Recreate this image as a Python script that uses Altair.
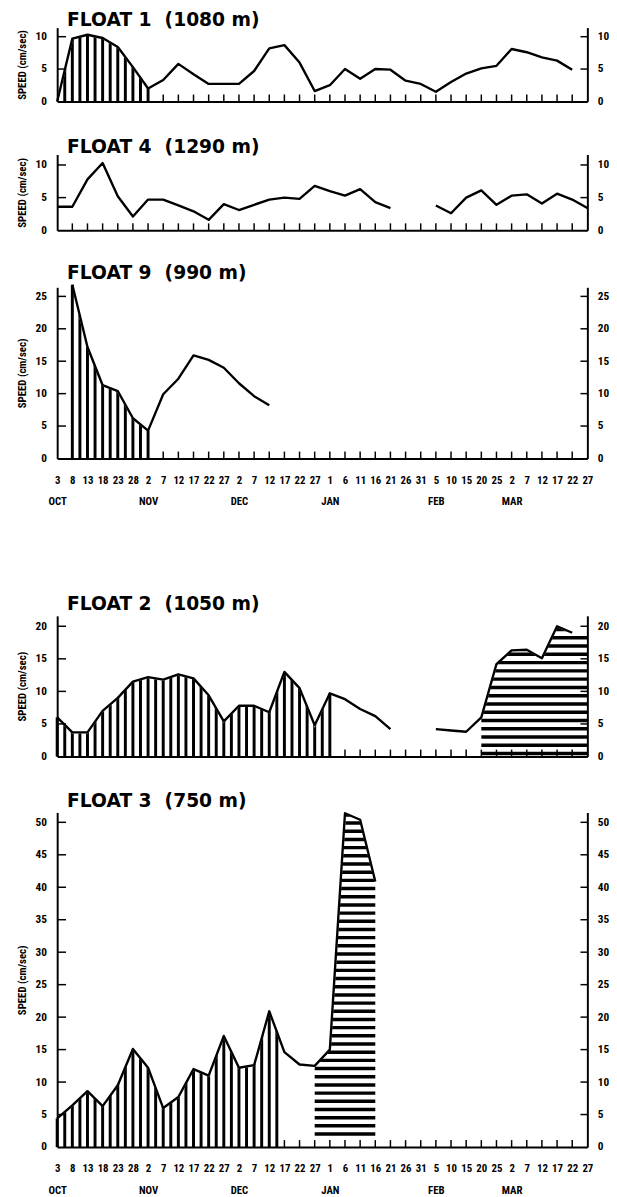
import altair as alt
import pandas as pd

# ---------------- data ----------------
DAY_LABELS = ["3", "8", "13", "18", "23", "28", "2", "7", "12", "17", "22", "27",
              "2", "7", "12", "17", "22", "27", "1", "6", "11", "16", "21", "26",
              "31", "5", "10", "15", "20", "25", "2", "7", "12", "17", "22", "27"]
MONTH_AT = {0: "OCT", 6: "NOV", 12: "DEC", 18: "JAN", 25: "FEB", 30: "MAR"}

F1_TITLE = "FLOAT 1\u00a0\u00a0(1080 m)"
F1_SPEED = [0.0, 9.7, 10.3, 9.8, 8.4, 5.3, 2.0, 3.3, 5.8, 4.2, 2.7, 2.7, 2.7, 4.7,
            8.2, 8.7, 6.0, 1.6, 2.5, 5.0, 3.5, 5.0, 4.9, 3.2, 2.7, 1.5, 3.0, 4.3,
            5.1, 5.5, 8.1, 7.6, 6.8, 6.3, 4.9, None]

F4_TITLE = "FLOAT 4\u00a0\u00a0(1290 m)"
F4_SPEED = [3.6, 3.6, 7.8, 10.3, 5.2, 2.1, 4.7, 4.7, 3.8, 2.9, 1.6, 4.0, 3.1, 3.9,
            4.7, 5.0, 4.8, 6.8, 6.0, 5.3, 6.3, 4.3, 3.4, None, None, 3.8, 2.6, 5.0,
            6.1, 3.9, 5.3, 5.5, 4.1, 5.6, 4.7, 3.4]

F9_TITLE = "FLOAT 9\u00a0\u00a0(990 m)"
F9_SPEED = [None, 26.8, 17.2, 11.3, 10.4, 6.2, 4.3, 9.9, 12.3, 15.9, 15.2, 14.0,
            11.6, 9.6, 8.2] + [None] * 21

F2_TITLE = "FLOAT 2\u00a0\u00a0(1050 m)"
F2_SPEED = [6.0, 3.7, 3.7, 7.0, 9.0, 11.5, 12.2, 11.8, 12.6, 12.0, 9.4, 5.4, 7.8,
            7.8, 6.8, 13.0, 10.5, 4.8, 9.7, 8.8, 7.3, 6.2, 4.2, None, None, 4.2,
            4.0, 3.8, 6.0, 14.2, 16.3, 16.4, 15.1, 20.0, 19.0, None]
F2_HATCH_EDGE = [(35, 18.8)]  # top of the horizontal hatching at the right axis

F3_TITLE = "FLOAT 3\u00a0\u00a0(750 m)"
F3_SPEED = [4.4, 6.4, 8.6, 6.3, 9.5, 15.1, 12.2, 6.0, 7.7, 12.0, 11.0, 17.1, 12.2,
            12.6, 20.9, 14.6, 12.7, 12.5, 15.0, 51.4, 50.4, 40.9] + [None] * 14

TICK_IDX = list(range(1, 35))

LBL_FONT = ("Noto Sans ExtraCondensed, Roboto Condensed, Liberation Sans Narrow, "
            "Noto Sans Condensed, DejaVu Sans Condensed, Lato, sans-serif")
TTL_FONT = "DejaVu Sans, sans-serif"
W = 539


def segments(vals):
    rows, seg, prev = [], 0, False
    for i, v in enumerate(vals):
        if v is None:
            if prev:
                seg += 1
            prev = False
            continue
        rows.append({"i": i, "v": v, "seg": seg})
        prev = True
    return pd.DataFrame(rows)


def label_expr():
    items = []
    for i, d in enumerate(DAY_LABELS):
        if i in MONTH_AT:
            items.append("['%s','%s']" % (d, MONTH_AT[i]))
        else:
            items.append("'%s'" % d)
    return "[" + ",".join(items) + "][round(datum.value)]"


def panel(title, vals, ymax, h, yticks, vhatch=None, vedges=(), hhatch=None,
          hh_levels=(0.45, 1.27), extra=(), labels=False, title_offset=-21):
    df = segments(vals)
    xscale = alt.Scale(domain=[0, 35], nice=False, zero=False)
    yscale = alt.Scale(domain=[0, ymax], nice=False, zero=False)
    xaxis = alt.Axis(values=list(range(36)), ticks=False, tickSize=0, grid=False,
                     domainColor="black", domainWidth=2, labels=labels,
                     labelExpr=label_expr(), labelFont=LBL_FONT, labelFontSize=11,
                     labelFontWeight="bold", labelColor="black", labelPadding=16,
                     labelLineHeight=22, labelFlush=False, labelOverlap=False,
                     labelAlign="center", title=None, zindex=1)
    yaxis = alt.Axis(orient="left", values=yticks, ticks=False, tickSize=0, grid=False,
                     domainColor="black", domainWidth=2, labelFont=LBL_FONT,
                     labelFontSize=11.5, labelFontWeight="bold", labelColor="black",
                     labelPadding=11, labelFlush=False, labelOverlap=False,
                     minExtent=24, maxExtent=24,
                     title="SPEED (cm/sec)", titleFont=LBL_FONT, titleFontSize=11,
                     titleFontWeight="bold", titleColor="black", titlePadding=6,
                     zindex=1)

    def X(f="i"):
        return alt.X(f"{f}:Q", scale=xscale, axis=xaxis)

    def Y(f="v"):
        return alt.Y(f"{f}:Q", scale=yscale, axis=yaxis)

    layers = []
    # inward bottom ticks
    layers.append(alt.Chart(pd.DataFrame({"i": TICK_IDX})).mark_rule(
        color="black", strokeWidth=1.5).encode(x=X(), y=alt.value(h), y2=alt.value(h - 7)))

    # vertical hatching
    if vhatch is not None:
        a, b = vhatch
        layers.append(
            alt.Chart(alt.sequence(a + 0.5, b - 0.49, 0.5, as_="i"))
            .transform_calculate(lo="0", hi=str(ymax))
            .mark_rule(color="black", strokeWidth=3)
            .encode(x=X(), y=Y("lo"), y2="hi:Q"))
    # horizontal hatching
    if hhatch is not None:
        a, b = hhatch
        start, step = hh_levels
        layers.append(
            alt.Chart(alt.sequence(start, ymax, step, as_="v"))
            .transform_calculate(a=str(a), b=str(b))
            .mark_rule(color="black", strokeWidth=3.5)
            .encode(y=Y(), x=X("a"), x2="b:Q"))
    # white masks above the curve inside the hatched ranges
    for rng in [r for r in (vhatch, hhatch) if r is not None]:
        a, b = rng
        mdf = df[(df.i >= a) & (df.i <= b)][["i", "v"]]
        if rng is hhatch and extra:
            mdf = pd.concat([mdf, pd.DataFrame(extra, columns=["i", "v"])])
        layers.append(
            alt.Chart(mdf).transform_calculate(top=str(ymax))
            .mark_area(color="white", opacity=1, stroke="white", strokeWidth=2,
                       interpolate="linear")
            .encode(x=X(), y=Y(), y2="top:Q"))
    # edge lines of hatched regions
    if vedges:
        edf = df[df.i.isin(list(vedges))]
        layers.append(
            alt.Chart(edf).transform_calculate(lo="0")
            .mark_rule(color="black", strokeWidth=3)
            .encode(x=X(), y=Y("lo"), y2="v:Q"))
    # speed line
    layers.append(alt.Chart(df).mark_line(color="black", strokeWidth=2.4,
                                          strokeJoin="round")
                  .encode(x=X(), y=Y(), detail="seg:N"))
    # inward left ticks
    tdf = pd.DataFrame({"t": [t for t in yticks if t > 0]})
    layers.append(alt.Chart(tdf).mark_rule(color="black", strokeWidth=1.5)
                  .encode(y=Y("t"), x=alt.value(0), x2=alt.value(9)))

    raxis = alt.Axis(orient="right", values=yticks, ticks=False, tickSize=0, grid=False,
                     domainColor="black", domainWidth=2, labelFont=LBL_FONT,
                     labelFontSize=11.5, labelFontWeight="bold", labelColor="black",
                     labelPadding=10, labelFlush=False, labelOverlap=False,
                     title=None, zindex=1)
    right = alt.Chart(tdf).mark_rule(color="black", strokeWidth=1.5).encode(
        y=alt.Y("t:Q", scale=alt.Scale(domain=[0, ymax], nice=False, zero=False),
                axis=raxis),
        x=alt.value(W - 7), x2=alt.value(W))

    return alt.layer(alt.layer(*layers), right).resolve_scale(y="independent").properties(
        width=W, height=h,
        title=alt.TitleParams(title, anchor="start", frame="group", dx=10,
                              offset=title_offset, baseline="bottom", fontSize=19,
                              font=TTL_FONT, fontWeight="bold", color="black"))


p1 = panel(F1_TITLE, F1_SPEED, 11.4, 75, [0, 5, 10], vhatch=(0, 6), vedges=(6,),
           title_offset=-25)
p4 = panel(F4_TITLE, F4_SPEED, 11.6, 77, [0, 5, 10])
p9 = panel(F9_TITLE, F9_SPEED, 26.4, 174, [0, 5, 10, 15, 20, 25], vhatch=(1, 6),
           vedges=(1, 6), labels=True)
p2 = panel(F2_TITLE, F2_SPEED, 21.6, 143, [0, 5, 10, 15, 20], vhatch=(0, 18),
           vedges=(0, 18), hhatch=(28, 35), hh_levels=(0.45, 1.27), extra=F2_HATCH_EDGE)
p3 = panel(F3_TITLE, F3_SPEED, 51.5, 340, list(range(0, 55, 5)), vhatch=(0, 15),
           vedges=(0,), hhatch=(17, 21), hh_levels=(2.0, 1.26), labels=True)

top = alt.vconcat(p1, alt.vconcat(p4, p9, spacing=28), spacing=31)
bottom = alt.vconcat(p2, p3, spacing=30)
chart = (alt.vconcat(top, bottom, spacing=90)
         .properties(padding={"left": 9, "top": -7, "right": 0, "bottom": 0},
                     background="white")
         .configure_view(stroke=None))

chart.save("out.html", embed_options={"renderer": "svg", "actions": False})
